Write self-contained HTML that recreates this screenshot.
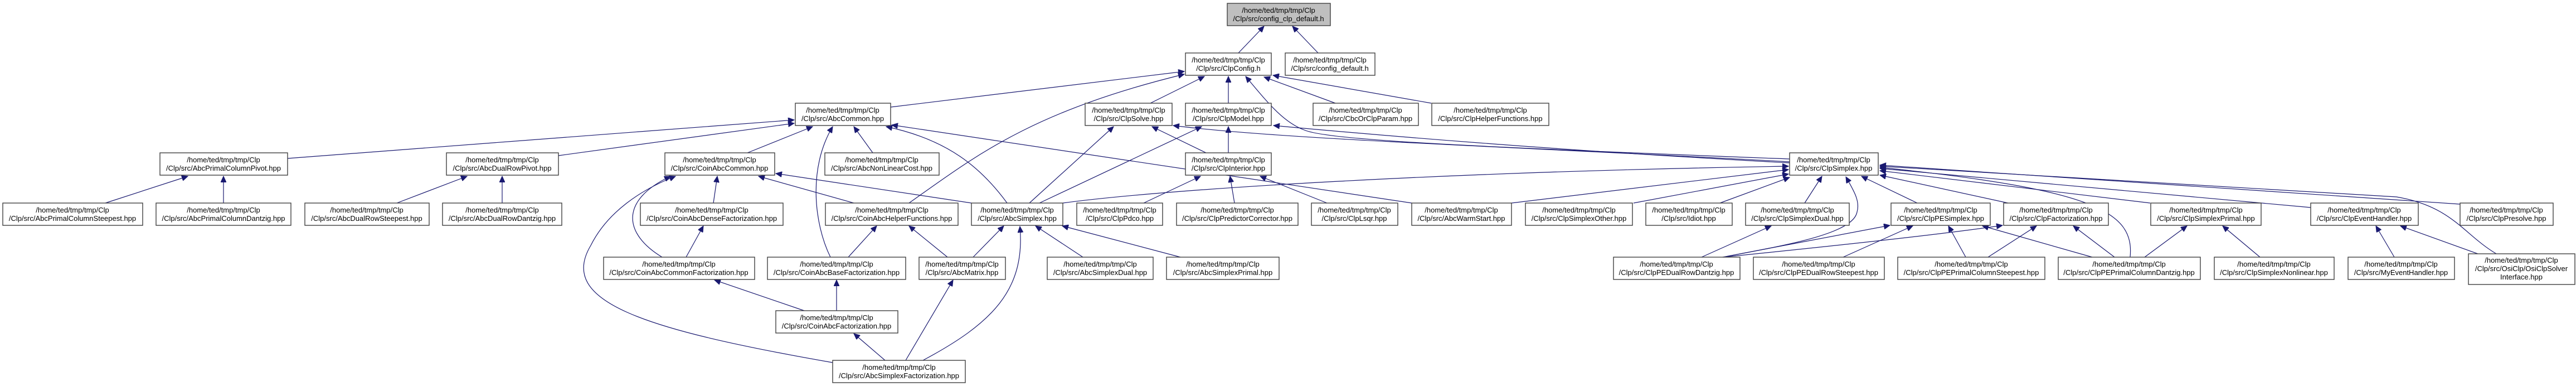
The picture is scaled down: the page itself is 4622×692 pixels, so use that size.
<!DOCTYPE html>
<html><head><meta charset="utf-8"><style>
html,body{margin:0;padding:0;background:#fff;}
svg{display:block;}
text{font-family:"Liberation Sans",Arial,sans-serif;font-size:13px;fill:#000;text-anchor:middle;}
.n{fill:#fff;stroke:#404040;stroke-width:1.4;}
.e{fill:none;stroke:#191970;stroke-width:1.2;}
</style></head><body>
<svg width="4622" height="692" viewBox="0 0 4622 692" xmlns="http://www.w3.org/2000/svg">
<defs><marker id="a" markerUnits="userSpaceOnUse" markerWidth="12" markerHeight="10" refX="11" refY="5" orient="auto"><path d="M0,0 L11,5 L0,10 z" fill="#191970" stroke="#191970"/></marker></defs>
<g class="edges" marker-end="url(#a)">
<path class="e" marker-end="url(#a)" d="M2222,95 L2268,47"/>
<path class="e" marker-end="url(#a)" d="M2365,95 L2319,47"/>
<path class="e" marker-end="url(#a)" d="M1598,192 L2125,128"/>
<path class="e" marker-end="url(#a)" d="M1631,364 C1750,280 1850,200 2125,133"/>
<path class="e" marker-end="url(#a)" d="M2064,185 L2161,137"/>
<path class="e" marker-end="url(#a)" d="M2204,185 L2204,137"/>
<path class="e" marker-end="url(#a)" d="M3211,285 C2600,262 2380,250 2340,233 C2300,218 2270,178 2235,137"/>
<path class="e" marker-end="url(#a)" d="M2396,185 L2268,138"/>
<path class="e" marker-end="url(#a)" d="M2568,185 L2284,135"/>
<path class="e" marker-end="url(#a)" d="M516,284 L1425,215"/>
<path class="e" marker-end="url(#a)" d="M1002,279 L1425,221"/>
<path class="e" marker-end="url(#a)" d="M1341,274 L1458,227"/>
<path class="e" marker-end="url(#a)" d="M1490,461 C1460,400 1450,300 1494,227"/>
<path class="e" marker-end="url(#a)" d="M1566,274 L1532,227"/>
<path class="e" marker-end="url(#a)" d="M1807,364 C1760,300 1700,250 1590,227"/>
<path class="e" marker-end="url(#a)" d="M2533,364 L1600,224"/>
<path class="e" marker-end="url(#a)" d="M189,364 L337,316"/>
<path class="e" marker-end="url(#a)" d="M401,364 L401,316"/>
<path class="e" marker-end="url(#a)" d="M712,364 L838,316"/>
<path class="e" marker-end="url(#a)" d="M901,364 L901,316"/>
<path class="e" marker-end="url(#a)" d="M1280,364 L1287,316"/>
<path class="e" marker-end="url(#a)" d="M1188,461 C1120,420 1110,360 1203,316"/>
<path class="e" marker-end="url(#a)" d="M1494,650 C1150,590 1000,540 1060,440 C1090,380 1150,340 1212,316"/>
<path class="e" marker-end="url(#a)" d="M1532,364 L1361,316"/>
<path class="e" marker-end="url(#a)" d="M1743,364 L1392,311"/>
<path class="e" marker-end="url(#a)" d="M1231,461 L1262,405"/>
<path class="e" marker-end="url(#a)" d="M1522,461 L1573,405"/>
<path class="e" marker-end="url(#a)" d="M1700,461 L1631,405"/>
<path class="e" marker-end="url(#a)" d="M1443,557 L1282,502"/>
<path class="e" marker-end="url(#a)" d="M1501,557 L1501,502"/>
<path class="e" marker-end="url(#a)" d="M1588,646 L1532,598"/>
<path class="e" marker-end="url(#a)" d="M1746,461 L1801,405"/>
<path class="e" marker-end="url(#a)" d="M1656,646 C1780,580 1840,520 1830,406"/>
<path class="e" marker-end="url(#a)" d="M1625,646 L1710,502"/>
<path class="e" marker-end="url(#a)" d="M1943,461 L1858,405"/>
<path class="e" marker-end="url(#a)" d="M2118,461 L1906,405"/>
<path class="e" marker-end="url(#a)" d="M1847,364 L1998,227"/>
<path class="e" marker-end="url(#a)" d="M1865,364 L2156,227"/>
<path class="e" marker-end="url(#a)" d="M2164,274 L2067,227"/>
<path class="e" marker-end="url(#a)" d="M2204,274 L2204,227"/>
<path class="e" marker-end="url(#a)" d="M3211,290 C2700,262 2300,250 2105,225"/>
<path class="e" marker-end="url(#a)" d="M3211,292 C2800,270 2500,245 2285,225"/>
<path class="e" marker-end="url(#a)" d="M2052,364 L2154,316"/>
<path class="e" marker-end="url(#a)" d="M2215,364 L2207,316"/>
<path class="e" marker-end="url(#a)" d="M2381,364 L2261,316"/>
<path class="e" marker-end="url(#a)" d="M1907,364 C2100,338 2600,308 3209,298"/>
<path class="e" marker-end="url(#a)" d="M2712,364 L3209,304"/>
<path class="e" marker-end="url(#a)" d="M2931,364 L3209,312"/>
<path class="e" marker-end="url(#a)" d="M3086,364 L3211,318"/>
<path class="e" marker-end="url(#a)" d="M3238,364 L3269,316"/>
<path class="e" marker-end="url(#a)" d="M3053,461 L3178,405"/>
<path class="e" marker-end="url(#a)" d="M3091,461 C3200,440 3325,420 3332,380 C3338,360 3325,340 3312,317"/>
<path class="e" marker-end="url(#a)" d="M3091,461 L3391,404"/>
<path class="e" marker-end="url(#a)" d="M3091,461 C3300,440 3500,418 3593,404"/>
<path class="e" marker-end="url(#a)" d="M3307,461 L3432,405"/>
<path class="e" marker-end="url(#a)" d="M3527,461 L3496,405"/>
<path class="e" marker-end="url(#a)" d="M3567,461 L3654,405"/>
<path class="e" marker-end="url(#a)" d="M3754,461 L3557,405"/>
<path class="e" marker-end="url(#a)" d="M3794,461 L3720,405"/>
<path class="e" marker-end="url(#a)" d="M3848,461 L3924,405"/>
<path class="e" marker-end="url(#a)" d="M3822,461 C3830,380 3760,340 3373,300"/>
<path class="e" marker-end="url(#a)" d="M3440,364 L3340,316"/>
<path class="e" marker-end="url(#a)" d="M3603,364 L3373,314"/>
<path class="e" marker-end="url(#a)" d="M3858,364 L3373,306"/>
<path class="e" marker-end="url(#a)" d="M4055,461 L3988,405"/>
<path class="e" marker-end="url(#a)" d="M4146,372 L3373,302"/>
<path class="e" marker-end="url(#a)" d="M4414,366 L3373,296"/>
<path class="e" marker-end="url(#a)" d="M4479,455 C4420,420 4400,370 4300,353 L3373,298"/>
<path class="e" marker-end="url(#a)" d="M4296,461 L4263,405"/>
<path class="e" marker-end="url(#a)" d="M4446,455 L4307,405"/>
</g>
<g>
<rect x="2202" y="6" width="185" height="40" fill="#bfbfbf" stroke="#404040" stroke-width="1.4"/><text x="2294" y="23">/home/ted/tmp/tmp/Clp</text><text x="2294" y="38">/Clp/src/config_clp_default.h</text>
<rect class="n" x="2127" y="95" width="154" height="40"/><text x="2204" y="112">/home/ted/tmp/tmp/Clp</text><text x="2204" y="127">/Clp/src/ClpConfig.h</text>
<rect class="n" x="2306" y="95" width="161" height="40"/><text x="2386" y="112">/home/ted/tmp/tmp/Clp</text><text x="2386" y="127">/Clp/src/config_default.h</text>
<rect class="n" x="1427" y="185" width="171" height="40"/><text x="1512" y="202">/home/ted/tmp/tmp/Clp</text><text x="1512" y="217">/Clp/src/AbcCommon.hpp</text>
<rect class="n" x="1947" y="185" width="156" height="40"/><text x="2025" y="202">/home/ted/tmp/tmp/Clp</text><text x="2025" y="217">/Clp/src/ClpSolve.hpp</text>
<rect class="n" x="2127" y="185" width="154" height="40"/><text x="2204" y="202">/home/ted/tmp/tmp/Clp</text><text x="2204" y="217">/Clp/src/ClpModel.hpp</text>
<rect class="n" x="2356" y="185" width="189" height="40"/><text x="2450" y="202">/home/ted/tmp/tmp/Clp</text><text x="2450" y="217">/Clp/src/CbcOrClpParam.hpp</text>
<rect class="n" x="2569" y="185" width="210" height="40"/><text x="2674" y="202">/home/ted/tmp/tmp/Clp</text><text x="2674" y="217">/Clp/src/ClpHelperFunctions.hpp</text>
<rect class="n" x="287" y="274" width="229" height="40"/><text x="401" y="291">/home/ted/tmp/tmp/Clp</text><text x="401" y="306">/Clp/src/AbcPrimalColumnPivot.hpp</text>
<rect class="n" x="801" y="274" width="201" height="40"/><text x="901" y="291">/home/ted/tmp/tmp/Clp</text><text x="901" y="306">/Clp/src/AbcDualRowPivot.hpp</text>
<rect class="n" x="1193" y="274" width="197" height="40"/><text x="1291" y="291">/home/ted/tmp/tmp/Clp</text><text x="1291" y="306">/Clp/src/CoinAbcCommon.hpp</text>
<rect class="n" x="1480" y="274" width="205" height="40"/><text x="1582" y="291">/home/ted/tmp/tmp/Clp</text><text x="1582" y="306">/Clp/src/AbcNonLinearCost.hpp</text>
<rect class="n" x="2127" y="274" width="154" height="40"/><text x="2204" y="291">/home/ted/tmp/tmp/Clp</text><text x="2204" y="306">/Clp/src/ClpInterior.hpp</text>
<rect class="n" x="3211" y="274" width="159" height="40"/><text x="3290" y="291">/home/ted/tmp/tmp/Clp</text><text x="3290" y="306">/Clp/src/ClpSimplex.hpp</text>
<rect class="n" x="5" y="364" width="251" height="40"/><text x="130" y="381">/home/ted/tmp/tmp/Clp</text><text x="130" y="396">/Clp/src/AbcPrimalColumnSteepest.hpp</text>
<rect class="n" x="280" y="364" width="242" height="40"/><text x="401" y="381">/home/ted/tmp/tmp/Clp</text><text x="401" y="396">/Clp/src/AbcPrimalColumnDantzig.hpp</text>
<rect class="n" x="547" y="364" width="223" height="40"/><text x="658" y="381">/home/ted/tmp/tmp/Clp</text><text x="658" y="396">/Clp/src/AbcDualRowSteepest.hpp</text>
<rect class="n" x="794" y="364" width="214" height="40"/><text x="901" y="381">/home/ted/tmp/tmp/Clp</text><text x="901" y="396">/Clp/src/AbcDualRowDantzig.hpp</text>
<rect class="n" x="1149" y="364" width="256" height="40"/><text x="1277" y="381">/home/ted/tmp/tmp/Clp</text><text x="1277" y="396">/Clp/src/CoinAbcDenseFactorization.hpp</text>
<rect class="n" x="1481" y="364" width="238" height="40"/><text x="1600" y="381">/home/ted/tmp/tmp/Clp</text><text x="1600" y="396">/Clp/src/CoinAbcHelperFunctions.hpp</text>
<rect class="n" x="1743" y="364" width="164" height="40"/><text x="1825" y="381">/home/ted/tmp/tmp/Clp</text><text x="1825" y="396">/Clp/src/AbcSimplex.hpp</text>
<rect class="n" x="1932" y="364" width="154" height="40"/><text x="2009" y="381">/home/ted/tmp/tmp/Clp</text><text x="2009" y="396">/Clp/src/ClpPdco.hpp</text>
<rect class="n" x="2111" y="364" width="218" height="40"/><text x="2220" y="381">/home/ted/tmp/tmp/Clp</text><text x="2220" y="396">/Clp/src/ClpPredictorCorrector.hpp</text>
<rect class="n" x="2353" y="364" width="155" height="40"/><text x="2430" y="381">/home/ted/tmp/tmp/Clp</text><text x="2430" y="396">/Clp/src/ClpLsqr.hpp</text>
<rect class="n" x="2533" y="364" width="179" height="40"/><text x="2622" y="381">/home/ted/tmp/tmp/Clp</text><text x="2622" y="396">/Clp/src/AbcWarmStart.hpp</text>
<rect class="n" x="2737" y="364" width="192" height="40"/><text x="2833" y="381">/home/ted/tmp/tmp/Clp</text><text x="2833" y="396">/Clp/src/ClpSimplexOther.hpp</text>
<rect class="n" x="2953" y="364" width="155" height="40"/><text x="3030" y="381">/home/ted/tmp/tmp/Clp</text><text x="3030" y="396">/Clp/src/Idiot.hpp</text>
<rect class="n" x="3132" y="364" width="186" height="40"/><text x="3225" y="381">/home/ted/tmp/tmp/Clp</text><text x="3225" y="396">/Clp/src/ClpSimplexDual.hpp</text>
<rect class="n" x="3393" y="364" width="178" height="40"/><text x="3482" y="381">/home/ted/tmp/tmp/Clp</text><text x="3482" y="396">/Clp/src/ClpPESimplex.hpp</text>
<rect class="n" x="3595" y="364" width="188" height="40"/><text x="3689" y="381">/home/ted/tmp/tmp/Clp</text><text x="3689" y="396">/Clp/src/ClpFactorization.hpp</text>
<rect class="n" x="3859" y="364" width="198" height="40"/><text x="3958" y="381">/home/ted/tmp/tmp/Clp</text><text x="3958" y="396">/Clp/src/ClpSimplexPrimal.hpp</text>
<rect class="n" x="4146" y="364" width="193" height="40"/><text x="4242" y="381">/home/ted/tmp/tmp/Clp</text><text x="4242" y="396">/Clp/src/ClpEventHandler.hpp</text>
<rect class="n" x="4414" y="364" width="167" height="40"/><text x="4497" y="381">/home/ted/tmp/tmp/Clp</text><text x="4497" y="396">/Clp/src/ClpPresolve.hpp</text>
<rect class="n" x="1083" y="461" width="271" height="40"/><text x="1218" y="478">/home/ted/tmp/tmp/Clp</text><text x="1218" y="493">/Clp/src/CoinAbcCommonFactorization.hpp</text>
<rect class="n" x="1377" y="461" width="248" height="40"/><text x="1501" y="478">/home/ted/tmp/tmp/Clp</text><text x="1501" y="493">/Clp/src/CoinAbcBaseFactorization.hpp</text>
<rect class="n" x="1649" y="461" width="155" height="40"/><text x="1726" y="478">/home/ted/tmp/tmp/Clp</text><text x="1726" y="493">/Clp/src/AbcMatrix.hpp</text>
<rect class="n" x="1879" y="461" width="190" height="40"/><text x="1974" y="478">/home/ted/tmp/tmp/Clp</text><text x="1974" y="493">/Clp/src/AbcSimplexDual.hpp</text>
<rect class="n" x="2093" y="461" width="202" height="40"/><text x="2194" y="478">/home/ted/tmp/tmp/Clp</text><text x="2194" y="493">/Clp/src/AbcSimplexPrimal.hpp</text>
<rect class="n" x="2895" y="461" width="227" height="40"/><text x="3008" y="478">/home/ted/tmp/tmp/Clp</text><text x="3008" y="493">/Clp/src/ClpPEDualRowDantzig.hpp</text>
<rect class="n" x="3146" y="461" width="235" height="40"/><text x="3263" y="478">/home/ted/tmp/tmp/Clp</text><text x="3263" y="493">/Clp/src/ClpPEDualRowSteepest.hpp</text>
<rect class="n" x="3405" y="461" width="264" height="40"/><text x="3537" y="478">/home/ted/tmp/tmp/Clp</text><text x="3537" y="493">/Clp/src/ClpPEPrimalColumnSteepest.hpp</text>
<rect class="n" x="3693" y="461" width="255" height="40"/><text x="3820" y="478">/home/ted/tmp/tmp/Clp</text><text x="3820" y="493">/Clp/src/ClpPEPrimalColumnDantzig.hpp</text>
<rect class="n" x="3973" y="461" width="215" height="40"/><text x="4080" y="478">/home/ted/tmp/tmp/Clp</text><text x="4080" y="493">/Clp/src/ClpSimplexNonlinear.hpp</text>
<rect class="n" x="4213" y="461" width="191" height="40"/><text x="4308" y="478">/home/ted/tmp/tmp/Clp</text><text x="4308" y="493">/Clp/src/MyEventHandler.hpp</text>
<rect class="n" x="4429" y="455" width="191" height="55"/><text x="4524" y="471">/home/ted/tmp/tmp/Clp</text><text x="4524" y="486">/Clp/src/OsiClp/OsiClpSolver</text><text x="4524" y="501">Interface.hpp</text>
<rect class="n" x="1392" y="557" width="219" height="40"/><text x="1501" y="574">/home/ted/tmp/tmp/Clp</text><text x="1501" y="589">/Clp/src/CoinAbcFactorization.hpp</text>
<rect class="n" x="1494" y="646" width="238" height="40"/><text x="1613" y="663">/home/ted/tmp/tmp/Clp</text><text x="1613" y="678">/Clp/src/AbcSimplexFactorization.hpp</text>
</g>
</svg>
</body></html>
